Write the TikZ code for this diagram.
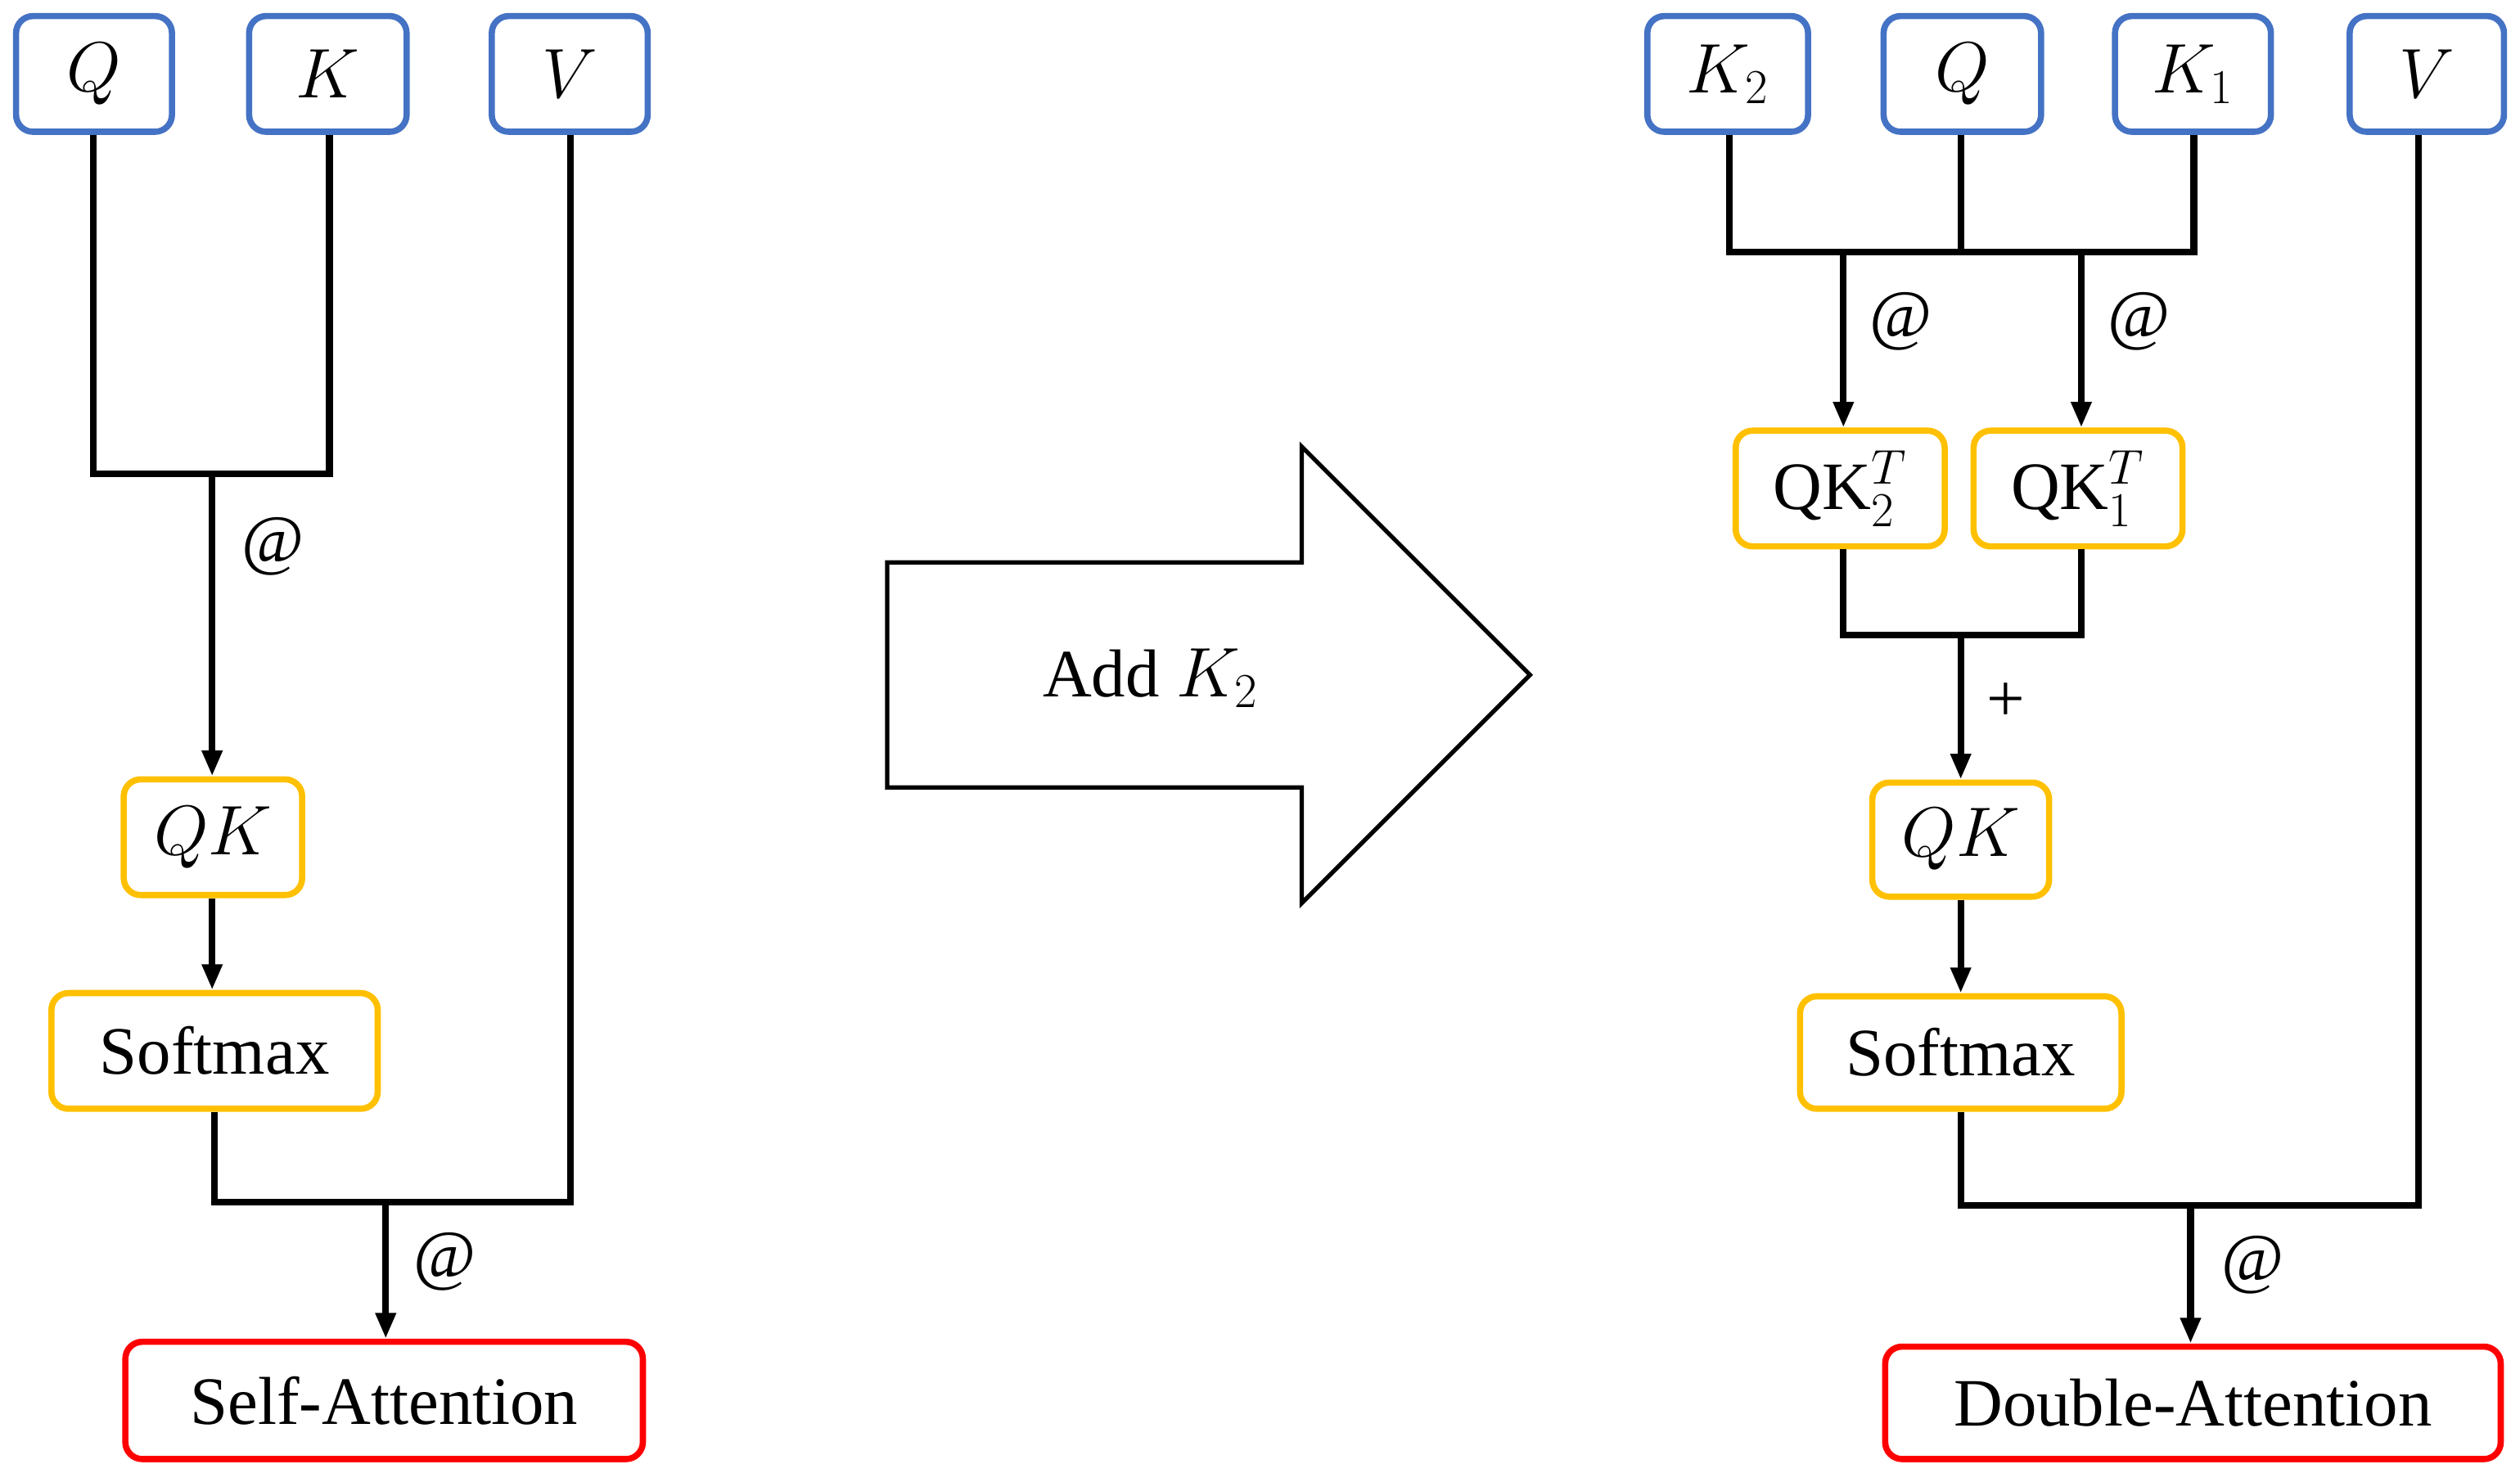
\documentclass[tikz,border=0pt]{standalone}
\usepackage{fontspec}
\setmainfont{Liberation Serif}
\usetikzlibrary{arrows.meta}
\definecolor{bl}{HTML}{4472C4}
\definecolor{og}{HTML}{FFC000}
\definecolor{rd}{HTML}{FF0000}
\begin{document}
\begin{tikzpicture}[x=0.02cm,y=-0.02cm,
 bx/.style={draw=#1,line width=2.2pt,rounded corners=6pt,inner sep=0pt,font=\fontsize{24}{28}\selectfont},
 ln/.style={line width=2.4pt},
 ar/.style={ln,-{Triangle[length=0.32cm,width=0.24cm]}},
 lb/.style={font=\fontsize{24}{28}\selectfont}]
\useasboundingbox (0,0) rectangle (1568,922);
\newcommand{\bb}[7]{\node[bx=#6,minimum width=#4*0.02cm,minimum height=#5*0.02cm] (#1) at (#2,#3) {#7};}
% left
\bb{q}{58.5}{46}{97}{72}{bl}{$Q$}
\bb{k}{204}{46}{98}{72}{bl}{$K$}
\bb{v}{354.5}{46}{97}{72}{bl}{$V$}
\bb{qk}{132.5}{521}{111}{72}{og}{$QK$}
\bb{sm}{133.5}{654}{203}{72}{og}{Softmax}
\bb{sa}{239}{871.5}{322}{73}{rd}{Self-Attention}
\coordinate (j1) at (132,295);
\coordinate (j2) at (240,748);
\draw[ln] (q.south -| 58,0) |- (205,295) -- (k.south -| 205,0);
\draw[ar] (j1) -- (qk.north -| j1);
\node[lb] at (170,340) {@};
\draw[ar] (qk.south -| 132,0) -- (sm.north -| 132,0);
\draw[ln] (sm.south) |- (355,748) -- (v.south -| 355,0);
\draw[ar] (j2) -- (sa.north -| j2);
\node[lb] at (277,785) {@};
% big arrow
\draw[line width=1.5pt] (552,350) -- (810,350) -- (810,278) -- (952,420) -- (810,562) -- (810,490) -- (552,490) -- cycle;
\node[lb] (add) at (716,422) {Add $K_2$};
% right
\bb{k2}{1075}{46}{100}{72}{bl}{$K_2$}
\bb{q2}{1221}{46}{98}{72}{bl}{$Q$}
\bb{k1}{1364.5}{46}{97}{72}{bl}{$K_1$}
\bb{v2}{1510}{46}{96}{72}{bl}{$V$}
\bb{a2}{1145}{304}{130}{72}{og}{QK$_2^T$}
\bb{a1}{1293}{304}{130}{72}{og}{QK$_1^T$}
\bb{qk2}{1220}{522.5}{110}{71}{og}{$QK$}
\bb{sm2}{1220}{655}{200}{70}{og}{Softmax}
\bb{da}{1364.5}{873}{383}{70}{rd}{Double-Attention}
\draw[ln] (k2.south -| 1076,0) |- (1365,157) -- (k1.south -| 1365,0);
\draw[ln] (q2.south -| 1220,0) -- (1220,157);
\coordinate (j3) at (1147,157);
\coordinate (j4) at (1295,157);
\draw[ar] (j3) -- (a2.north -| j3);
\draw[ar] (j4) -- (a1.north -| j4);
\node[lb] at (1183,200) {@};
\node[lb] at (1331,200) {@};
\draw[ln] (a2.south -| 1147,0) |- (1295,395) -- (a1.south -| 1295,0);
\coordinate (j5) at (1220,395);
\draw[ar] (j5) -- (qk2.north);
\node[lb] at (1248,437) {+};
\draw[ar] (qk2.south) -- (sm2.north);
\draw[ln] (sm2.south) |- (1505,750) -- (v2.south -| 1505,0);
\coordinate (j6) at (1363,750);
\draw[ar] (j6) -- (da.north -| j6);
\node[lb] at (1402,787) {@};
\end{tikzpicture}
\end{document}
